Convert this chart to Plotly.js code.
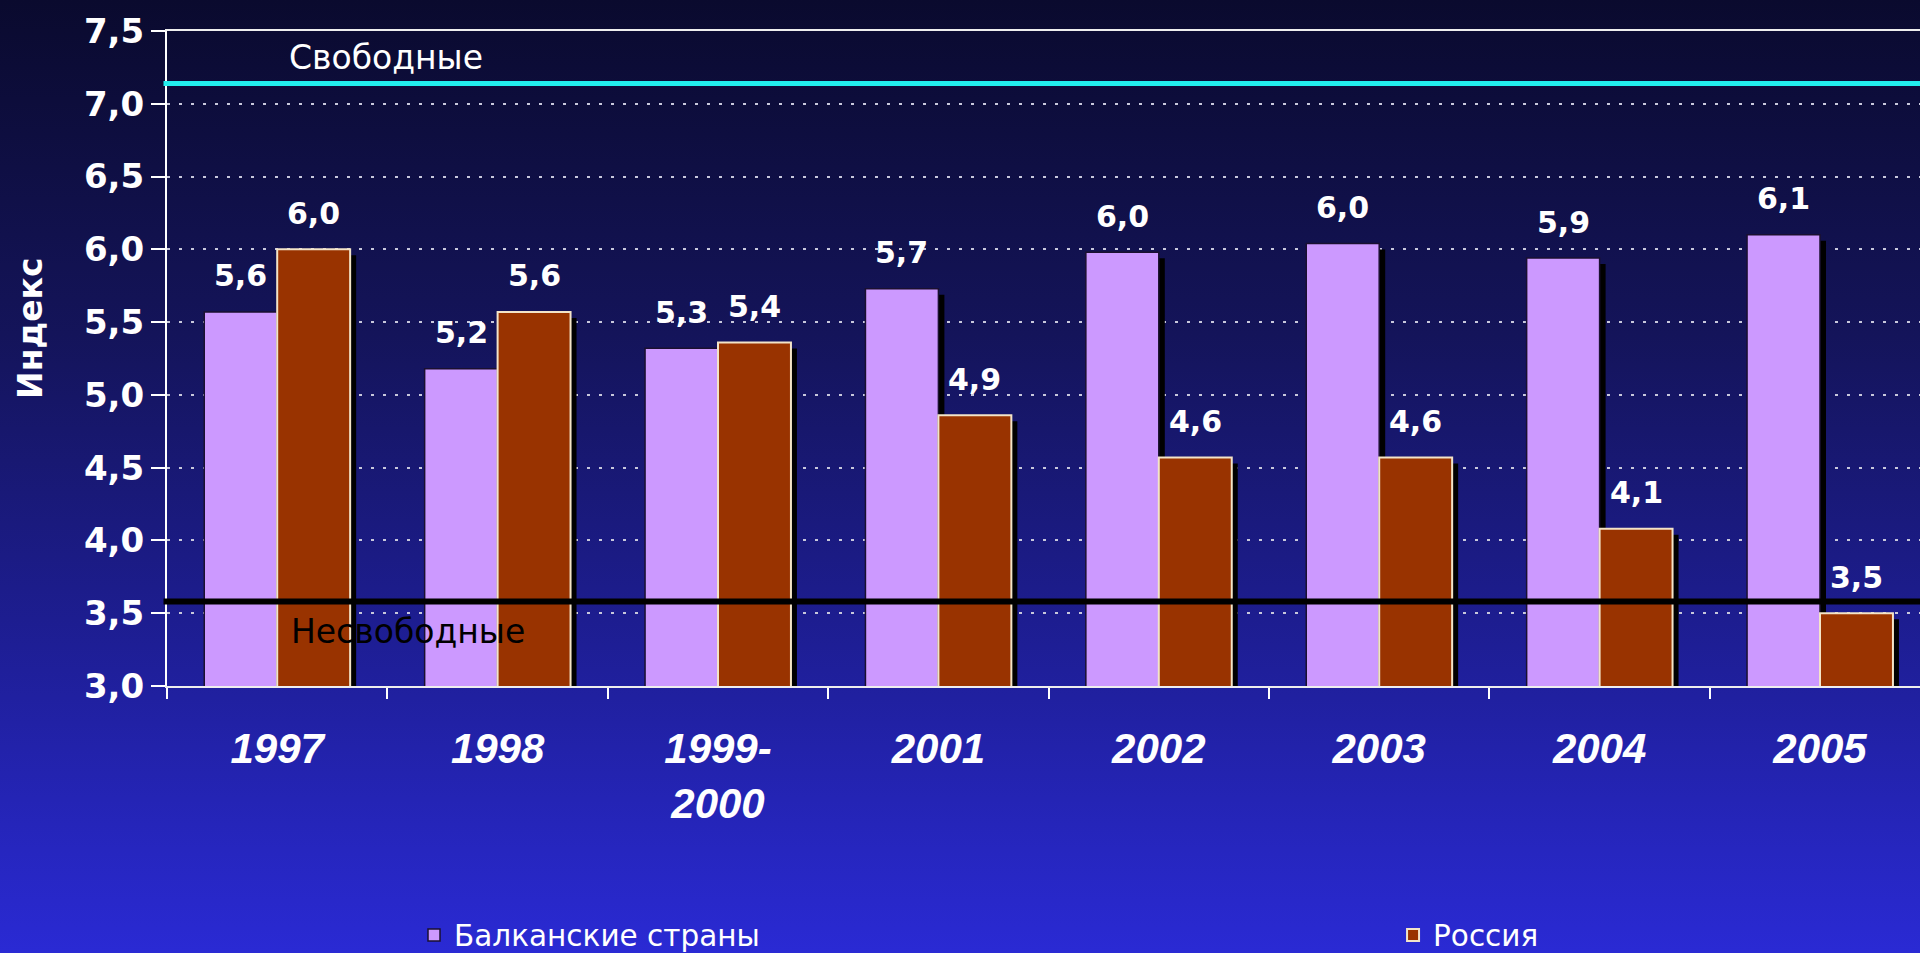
<!DOCTYPE html>
<html>
<head>
<meta charset="utf-8">
<script src="https://cdn.plot.ly/plotly-3.0.1.min.js"></script>
<style>
  html, body { margin: 0; padding: 0; overflow: hidden; }
  #chart {
    width: 1920px; height: 953px;
    background: linear-gradient(to bottom, #0a0a2e 0%, #14145a 35%, #1d1d90 65%, #2a2ad4 100%);
  }
</style>
</head>
<body>
<div id="chart"></div>
<script>
// ---- data ----
const categories = ['1997', '1998', '1999-<br>2000', '2001', '2002', '2003', '2004', '2005'];
const balkans = [5.57, 5.18, 5.32, 5.73, 5.98, 6.04, 5.94, 6.10];
const russia  = [6.00, 5.57, 5.36, 4.86, 4.57, 4.57, 4.08, 3.50];
const seriesNames = ['Балканские страны', 'Россия'];
const freeLevel = 7.14;
const notFreeLevel = 3.58;

// ---- styling ----
const catPx = 220.4, unitPx = 145.6;
const bw = 0.331;
const sdx = 6 / catPx, sdy = 6 / unitPx;
const cBalkans = '#cc99ff', cRussia = '#993300';
const fmt = v => v.toFixed(1).replace('.', ',');

function shadow(vals, off) {
  return {
    type: 'bar', x: categories, y: vals.map(v => v - sdy),
    offset: off + sdx, width: bw, marker: {color: '#000000', line: {width: 0}},
    showlegend: false, hoverinfo: 'skip'
  };
}

const traces = [
  shadow(balkans, -bw),
  shadow(russia, 0),
  {
    type: 'bar', name: seriesNames[0], x: categories, y: balkans,
    offset: -bw, width: bw,
    marker: {color: cBalkans, line: {color: '#1a1030', width: 1.5}},
    legend: 'legend'
  },
  {
    type: 'bar', name: seriesNames[1], x: categories, y: russia,
    offset: 0, width: bw,
    marker: {color: cRussia, line: {color: '#f3e4c8', width: 2}},
    legend: 'legend2'
  }
];

const labelFont = {family: 'DejaVu Sans', size: 30, color: '#ffffff', weight: 'bold'};
const annotations = [];
categories.forEach((c, i) => {
  annotations.push({x: i, y: balkans[i], xref: 'x', yref: 'y', text: fmt(balkans[i]),
    showarrow: false, xanchor: 'center', xshift: -catPx * bw / 2, yshift: 36, yanchor: 'middle', font: labelFont});
  annotations.push({x: i, y: russia[i], xref: 'x', yref: 'y', text: fmt(russia[i]),
    showarrow: false, xanchor: 'center', xshift: catPx * bw / 2, yshift: 36, yanchor: 'middle', font: labelFont});
});
annotations.push({x: 0.1249, y: 7.318, xref: 'paper', yref: 'y', text: 'Свободные',
  showarrow: false, xanchor: 'center', yanchor: 'middle',
  font: {family: 'DejaVu Sans', size: 33, color: '#ffffff'}});
annotations.push({x: 0.1375, y: 3.372, xref: 'paper', yref: 'y', text: 'Несвободные',
  showarrow: false, xanchor: 'center', yanchor: 'middle',
  font: {family: 'DejaVu Sans', size: 33, color: '#000000'}});
annotations.push({x: -0.0776, y: 0.5466, xref: 'paper', yref: 'paper', text: 'Индекс',
  textangle: -90, showarrow: false, xanchor: 'center', yanchor: 'middle',
  font: {family: 'DejaVu Sans', size: 33, color: '#ffffff', weight: 'bold'}});

const legendFont = {family: 'DejaVu Sans', size: 29.5, color: '#ffffff'};
const layout = {
  width: 1920, height: 953,
  margin: {l: 167, r: 0, t: 31, b: 267, autoexpand: false},
  paper_bgcolor: 'rgba(0,0,0,0)', plot_bgcolor: 'rgba(0,0,0,0)',
  barmode: 'overlay',
  separators: ', ',
  xaxis: {
    type: 'category', range: [-0.5, -0.5 + 1753 / catPx],
    showline: true, linecolor: '#eeeeee', linewidth: 2, mirror: true,
    ticks: 'outside', tickson: 'boundaries', ticklen: 11, tickwidth: 2, tickcolor: '#ffffff',
    ticklabelstandoff: 25,
    showgrid: false, zeroline: false,
    tickfont: {family: 'Liberation Sans, Arial, sans-serif', size: 42, color: '#ffffff', weight: 'bold', style: 'italic'}
  },
  yaxis: {
    range: [3, 7.5], tick0: 3, dtick: 0.5, tickformat: '.1f',
    showline: true, linecolor: '#ffffff', linewidth: 2,
    ticks: 'outside', ticklen: 14, tickwidth: 2, tickcolor: '#ffffff',
    showgrid: true, gridcolor: '#c8c8dc', gridwidth: 2, griddash: '3px,9px',
    zeroline: false,
    tickfont: {family: 'DejaVu Sans', size: 34, color: '#ffffff', weight: 'bold'}
  },
  shapes: [
    {type: 'line', xref: 'paper', yref: 'y', x0: -0.002, x1: 1, y0: freeLevel, y1: freeLevel,
      line: {color: '#22eeee', width: 5}, layer: 'above'},
    {type: 'line', xref: 'paper', yref: 'y', x0: -0.002, x1: 1, y0: notFreeLevel, y1: notFreeLevel,
      line: {color: '#000000', width: 6}, layer: 'above'}
  ],
  annotations: annotations,
  legend: {orientation: 'h', x: 0.1409, y: -0.3805, xanchor: 'left', yanchor: 'middle',
    bgcolor: 'rgba(0,0,0,0)', font: legendFont},
  legend2: {orientation: 'h', x: 0.6994, y: -0.3805, xanchor: 'left', yanchor: 'middle',
    bgcolor: 'rgba(0,0,0,0)', font: legendFont},
  showlegend: true
};

Plotly.newPlot('chart', traces, layout, {displayModeBar: false, staticPlot: true});
</script>
</body>
</html>
